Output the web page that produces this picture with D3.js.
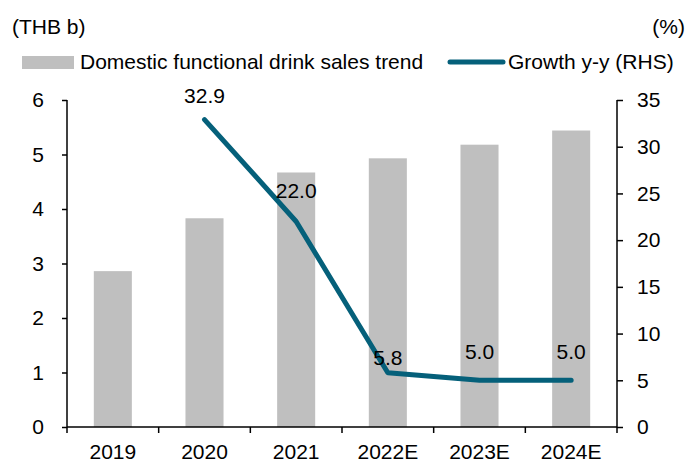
<!DOCTYPE html>
<html><head><meta charset="utf-8">
<script src="https://cdn.jsdelivr.net/npm/d3@7"></script>
<style>
body{margin:0;background:#fff;}
text{font-family:"Liberation Sans",Arial,sans-serif;fill:#000;}
</style></head>
<body><svg id="c" width="697" height="463"></svg>
<script>
const categories = ["2019","2020","2021","2022E","2023E","2024E"];
const salesValues = [2.86, 3.83, 4.67, 4.93, 5.18, 5.44];
const growthValues = [null, 32.9, 22.0, 5.8, 5.0, 5.0];
const leftTicks = [0,1,2,3,4,5,6];
const rightTicks = [0,5,10,15,20,25,30,35];
const seriesNames = ["Domestic functional drink sales trend","Growth y-y (RHS)"];
// label vertical offsets (layout only)
const labelDy = [0, -17, -23, -8, -21, -21];

const svg = d3.select("#c");
const m = {l:67, r:617, t:100, b:427};
const fs = 21;
const barColor = "#bfbfbf", lineColor = "#05607a";

const x = d3.scaleBand().domain(categories).range([m.l, m.r]);
const yL = d3.scaleLinear().domain([0,6]).range([m.b, m.t]);
const yR = d3.scaleLinear().domain([0,35]).range([m.b, m.t]);
const bw = x.bandwidth()*0.415;

// bars
svg.append("g").selectAll("rect").data(categories).join("rect")
  .attr("x", (d)=>x(d)+x.bandwidth()/2-bw/2)
  .attr("width", bw)
  .attr("y", (d,i)=>yL(salesValues[i]))
  .attr("height", (d,i)=>yL(0)-yL(salesValues[i]))
  .attr("fill", barColor);

// line
const pts = categories.map((c,i)=>({c, v:growthValues[i], i})).filter(p=>p.v!=null);
svg.append("path").datum(pts)
  .attr("d", d3.line().x(p=>x(p.c)+x.bandwidth()/2).y(p=>yR(p.v)))
  .attr("fill","none").attr("stroke",lineColor).attr("stroke-width",5)
  .attr("stroke-linejoin","round").attr("stroke-linecap","round");

// data labels
svg.append("g").selectAll("text").data(pts).join("text")
  .attr("x", p=>x(p.c)+x.bandwidth()/2)
  .attr("y", p=>yR(p.v)+labelDy[p.i])
  .attr("text-anchor","middle").attr("font-size",fs)
  .text(p=>d3.format(".1f")(p.v));

// axes
const axL = svg.append("g").attr("transform",`translate(${m.l},0)`)
  .call(d3.axisLeft(yL).tickValues(leftTicks).tickSize(5).tickPadding(18).tickFormat(d3.format("d")));
const axR = svg.append("g").attr("transform",`translate(${m.r},0)`)
  .call(d3.axisRight(yR).tickValues(rightTicks).tickSize(6).tickPadding(14).tickFormat(d3.format("d")));
const axB = svg.append("g").attr("transform",`translate(0,${m.b})`)
  .call(d3.axisBottom(x).tickSize(0).tickPadding(12));
// category boundary ticks
const bounds = categories.map(c=>x(c)).concat([m.r]);
axB.selectAll("line.bt").data(bounds).join("line").attr("class","bt")
  .attr("x1",d=>d).attr("x2",d=>d).attr("y1",0).attr("y2",6).attr("stroke","#000").attr("stroke-width",1.5);

[axL,axR,axB].forEach(a=>{
  a.select(".domain").attr("stroke","#000").attr("stroke-width",1.5);
  a.selectAll(".tick line").attr("stroke","#000").attr("stroke-width",1.5);
  a.selectAll("text").attr("font-size",fs).attr("font-family",'"Liberation Sans",Arial,sans-serif').attr("fill","#000");
});
axL.select(".domain").attr("d",`M0,${m.t}V${m.b}`);
axR.select(".domain").attr("d",`M0,${m.t}V${m.b}`);
axB.select(".domain").attr("d",`M${m.l},0H${m.r}`);
axB.selectAll(".tick text").attr("dy","0.95em");

// unit labels
svg.append("text").attr("x",12).attr("y",34).attr("font-size",fs).text("(THB b)");
svg.append("text").attr("x",685).attr("y",34).attr("font-size",fs).attr("text-anchor","end").text("(%)");

// legend
const lg = svg.append("g");
lg.append("rect").attr("x",22).attr("y",56).attr("width",52).attr("height",13).attr("fill",barColor);
lg.append("text").attr("x",80).attr("y",69).attr("font-size",fs).text(seriesNames[0]);
lg.append("line").attr("x1",450).attr("x2",503).attr("y1",62).attr("y2",62)
  .attr("stroke",lineColor).attr("stroke-width",5).attr("stroke-linecap","round");
lg.append("text").attr("x",508).attr("y",69).attr("font-size",fs).text(seriesNames[1]);
</script></body></html>
